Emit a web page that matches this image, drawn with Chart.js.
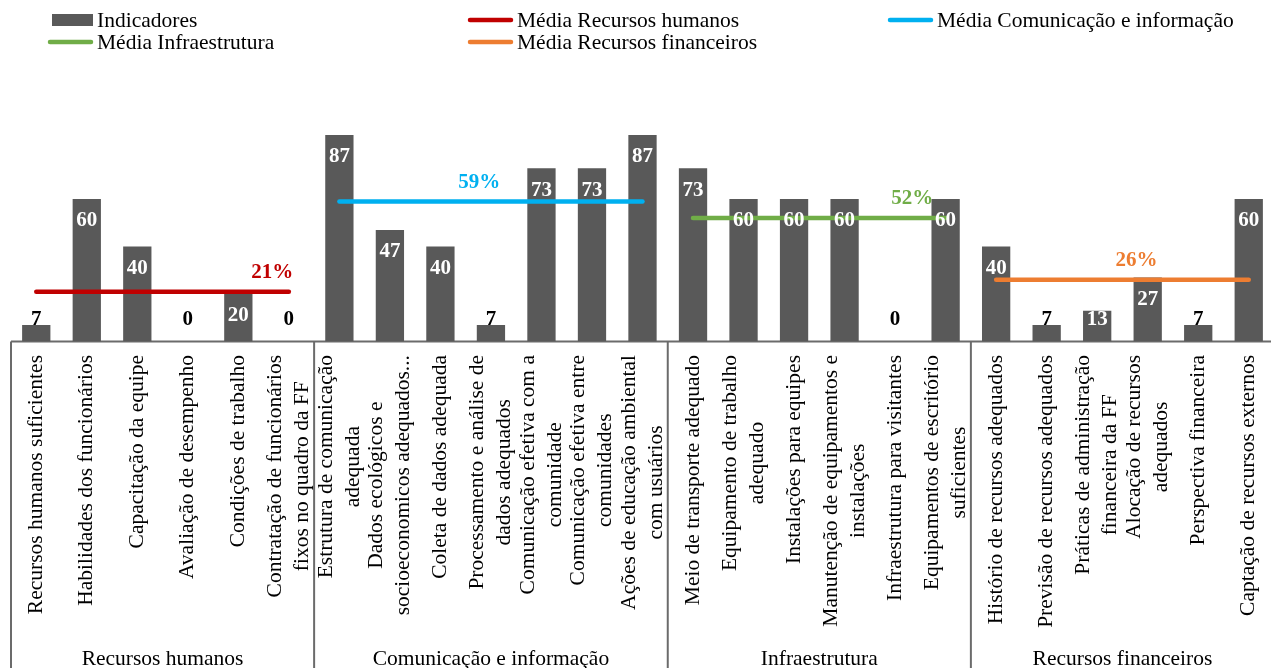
<!DOCTYPE html>
<html lang="pt">
<head>
<meta charset="utf-8">
<title>Indicadores por dimensão</title>
<script src="https://cdn.jsdelivr.net/npm/chart.js@4.4.1/dist/chart.umd.min.js"></script>
<style>
  html, body { margin: 0; padding: 0; background: #ffffff; overflow: hidden; }
  #wrap { width: 1275px; height: 668px; }
</style>
</head>
<body>
<div id="wrap"><canvas id="chart" width="1275" height="668"></canvas></div>
<script>
// Indicator names (multi-line entries are wrapped labels)
const categories = [
  'Recursos humanos suficientes',
  'Habilidades dos funcionários',
  'Capacitação da equipe',
  'Avaliação de desempenho',
  'Condições de trabalho',
  ['Contratação de funcionários', 'fixos no quadro da FF'],
  ['Estrutura de comunicação', 'adequada'],
  ['Dados ecológicos e', 'socioeconomicos adequados...'],
  'Coleta de dados adequada',
  ['Processamento e análise de', 'dados adequados'],
  ['Comunicação efetiva com a', 'comunidade'],
  ['Comunicação efetiva entre', 'comunidades'],
  ['Ações de educação ambiental', 'com usuários'],
  'Meio de transporte adequado',
  ['Equipamento de trabalho', 'adequado'],
  'Instalações para equipes',
  ['Manutenção de equipamentos e', 'instalações'],
  'Infraestrutura para visitantes',
  ['Equipamentos de escritório', 'suficientes'],
  'Histório de recursos adequados',
  'Previsão de recursos adequados',
  ['Práticas de administração', 'financeira da FF'],
  ['Alocação de recursos', 'adequados'],
  'Perspectiva financeira',
  'Captação de recursos externos'
];

// Indicator scores (%)
const indicatorValues = [
  7, 60, 40, 0, 20, 0,
  87, 47, 40, 7, 73, 73, 87,
  73, 60, 60, 60, 0, 60,
  40, 7, 13, 27, 7, 60
];

// Dimensions, how many indicators each holds, and their mean score (%)
const groupNames = ['Recursos humanos', 'Comunicação e informação', 'Infraestrutura', 'Recursos financeiros'];
const groupSizes = [6, 7, 6, 6];
const groupMeans = [21, 59, 52, 26];
const meanSeriesNames = ['Média Recursos humanos', 'Média Comunicação e informação', 'Média Infraestrutura', 'Média Recursos financeiros'];

// ---- styling ----
const SERIF = '"Liberation Serif", "Times New Roman", Times, serif';
const BAR_COLOR = '#595959';
const MEAN_COLORS = ['#C00000', '#00B0F0', '#70AD47', '#ED7D31'];
const AXIS_COLOR = '#6b6b6b';
// where each mean label sits along its line (fractional category index)
const MEAN_LABEL_AT = [4.67, 8.77, 17.34, 21.78];

// Each mean series spans only the categories of its own dimension
const groupStarts = groupSizes.map((n, g) => groupSizes.slice(0, g).reduce((a, b) => a + b, 0));
const meanSeries = groupSizes.map((n, g) =>
  categories.map((_, i) => (i >= groupStarts[g] && i < groupStarts[g] + n) ? groupMeans[g] : null)
);

function catPixel(xs, v) {
  const i = Math.floor(v);
  const p0 = xs.getPixelForValue(i);
  const p1 = xs.getPixelForValue(i + 1);
  return p0 + (v - i) * (p1 - p0);
}

const decor = {
  id: 'decor',
  beforeDatasetsDraw(chart) {
    const { ctx, scales: { x, y }, chartArea } = chart;
    const y0 = y.getPixelForValue(0);
    const half = (x.getPixelForValue(1) - x.getPixelForValue(0)) / 2;
    ctx.save();
    ctx.strokeStyle = AXIS_COLOR;
    ctx.lineWidth = 2;
    ctx.beginPath();
    ctx.moveTo(chartArea.left, y0);
    ctx.lineTo(chartArea.right, y0);
    ctx.stroke();
    // dimension separators below the axis
    const bounds = groupStarts.concat([categories.length]);
    bounds.forEach(b => {
      const xp = b === 0 ? x.getPixelForValue(0) - half : x.getPixelForValue(b - 1) + half;
      ctx.beginPath();
      ctx.moveTo(xp, y0);
      ctx.lineTo(xp, chart.height);
      ctx.stroke();
    });
    ctx.restore();
  },
  afterDatasetsDraw(chart) {
    const { ctx, scales: { x, y } } = chart;
    const half = (x.getPixelForValue(1) - x.getPixelForValue(0)) / 2;
    ctx.save();

    // value labels on bars
    const barMeta = chart.getDatasetMeta(0);
    ctx.font = 'bold 21px ' + SERIF;
    ctx.textAlign = 'center';
    ctx.textBaseline = 'middle';
    barMeta.data.forEach((el, i) => {
      const h = el.base - el.y;
      const ly = Math.min(el.y + 22, el.base - 21.5);
      ctx.fillStyle = h > 25 ? '#ffffff' : '#000000';
      ctx.fillText(String(indicatorValues[i]), el.x, ly);
    });

    // mean labels
    groupMeans.forEach((m, g) => {
      ctx.fillStyle = MEAN_COLORS[g];
      const lx = catPixel(x, MEAN_LABEL_AT[g]);
      ctx.fillText(m + '%', lx, y.getPixelForValue(m) - 19);
    });

    // rotated category labels
    const top = y.getPixelForValue(0) + 13.5;
    const lh = 27;
    ctx.font = '21.5px ' + SERIF;
    ctx.fillStyle = '#000000';
    categories.forEach((lab, i) => {
      const lines = Array.isArray(lab) ? lab : [lab];
      const maxW = Math.max(...lines.map(l => ctx.measureText(l).width));
      const cx = x.getPixelForValue(i);
      ctx.save();
      ctx.translate(cx, top);
      ctx.rotate(-Math.PI / 2);
      ctx.textAlign = 'center';
      ctx.textBaseline = 'middle';
      lines.forEach((l, k) => {
        ctx.fillText(l, -maxW / 2, (k - (lines.length - 1) / 2) * lh);
      });
      ctx.restore();
    });

    // dimension names
    ctx.textAlign = 'center';
    ctx.textBaseline = 'alphabetic';
    groupNames.forEach((name, g) => {
      const left = x.getPixelForValue(groupStarts[g]) - half;
      const right = x.getPixelForValue(groupStarts[g] + groupSizes[g] - 1) + half;
      ctx.fillText(name, (left + right) / 2, chart.height - 3);
    });

    // legend: three columns, two rows
    const colX = [97, 517, 937];
    const rowY = [20, 42];
    ctx.textAlign = 'left';
    ctx.textBaseline = 'middle';
    chart.data.datasets.forEach((ds, k) => {
      const tx = colX[k % 3];
      const ty = rowY[Math.floor(k / 3)];
      if (ds.type === 'line') {
        ctx.strokeStyle = ds.borderColor;
        ctx.lineWidth = 4.5;
        ctx.lineCap = 'round';
        ctx.beginPath();
        ctx.moveTo(tx - 47, ty);
        ctx.lineTo(tx - 6, ty);
        ctx.stroke();
      } else {
        ctx.fillStyle = ds.backgroundColor;
        ctx.fillRect(tx - 45, ty - 6, 41, 12);
      }
      ctx.fillStyle = '#000000';
      ctx.fillText(ds.label, tx, ty + 1);
    });

    ctx.restore();
  }
};

const datasets = [
  {
    type: 'bar',
    label: 'Indicadores',
    data: indicatorValues,
    backgroundColor: BAR_COLOR,
    borderWidth: 0,
    barPercentage: 0.56,
    categoryPercentage: 1.0,
    order: 1
  }
].concat(meanSeries.map((series, g) => ({
  type: 'line',
  label: meanSeriesNames[g],
  data: series,
  borderColor: MEAN_COLORS[g],
  backgroundColor: MEAN_COLORS[g],
  borderWidth: 4.5,
  borderCapStyle: 'round',
  pointRadius: 0,
  pointHoverRadius: 0,
  spanGaps: false,
  tension: 0,
  fill: false,
  order: 0
})));

new Chart(document.getElementById('chart'), {
  type: 'bar',
  data: { labels: categories, datasets },
  options: {
    responsive: false,
    animation: false,
    devicePixelRatio: 1,
    layout: { padding: { left: 11, right: 1, top: 104, bottom: 326.5 } },
    scales: {
      x: { display: false, offset: true },
      y: { display: false, min: 0, max: 100 }
    },
    plugins: {
      legend: { display: false },
      tooltip: { enabled: false }
    }
  },
  plugins: [decor]
});
</script>
</body>
</html>
